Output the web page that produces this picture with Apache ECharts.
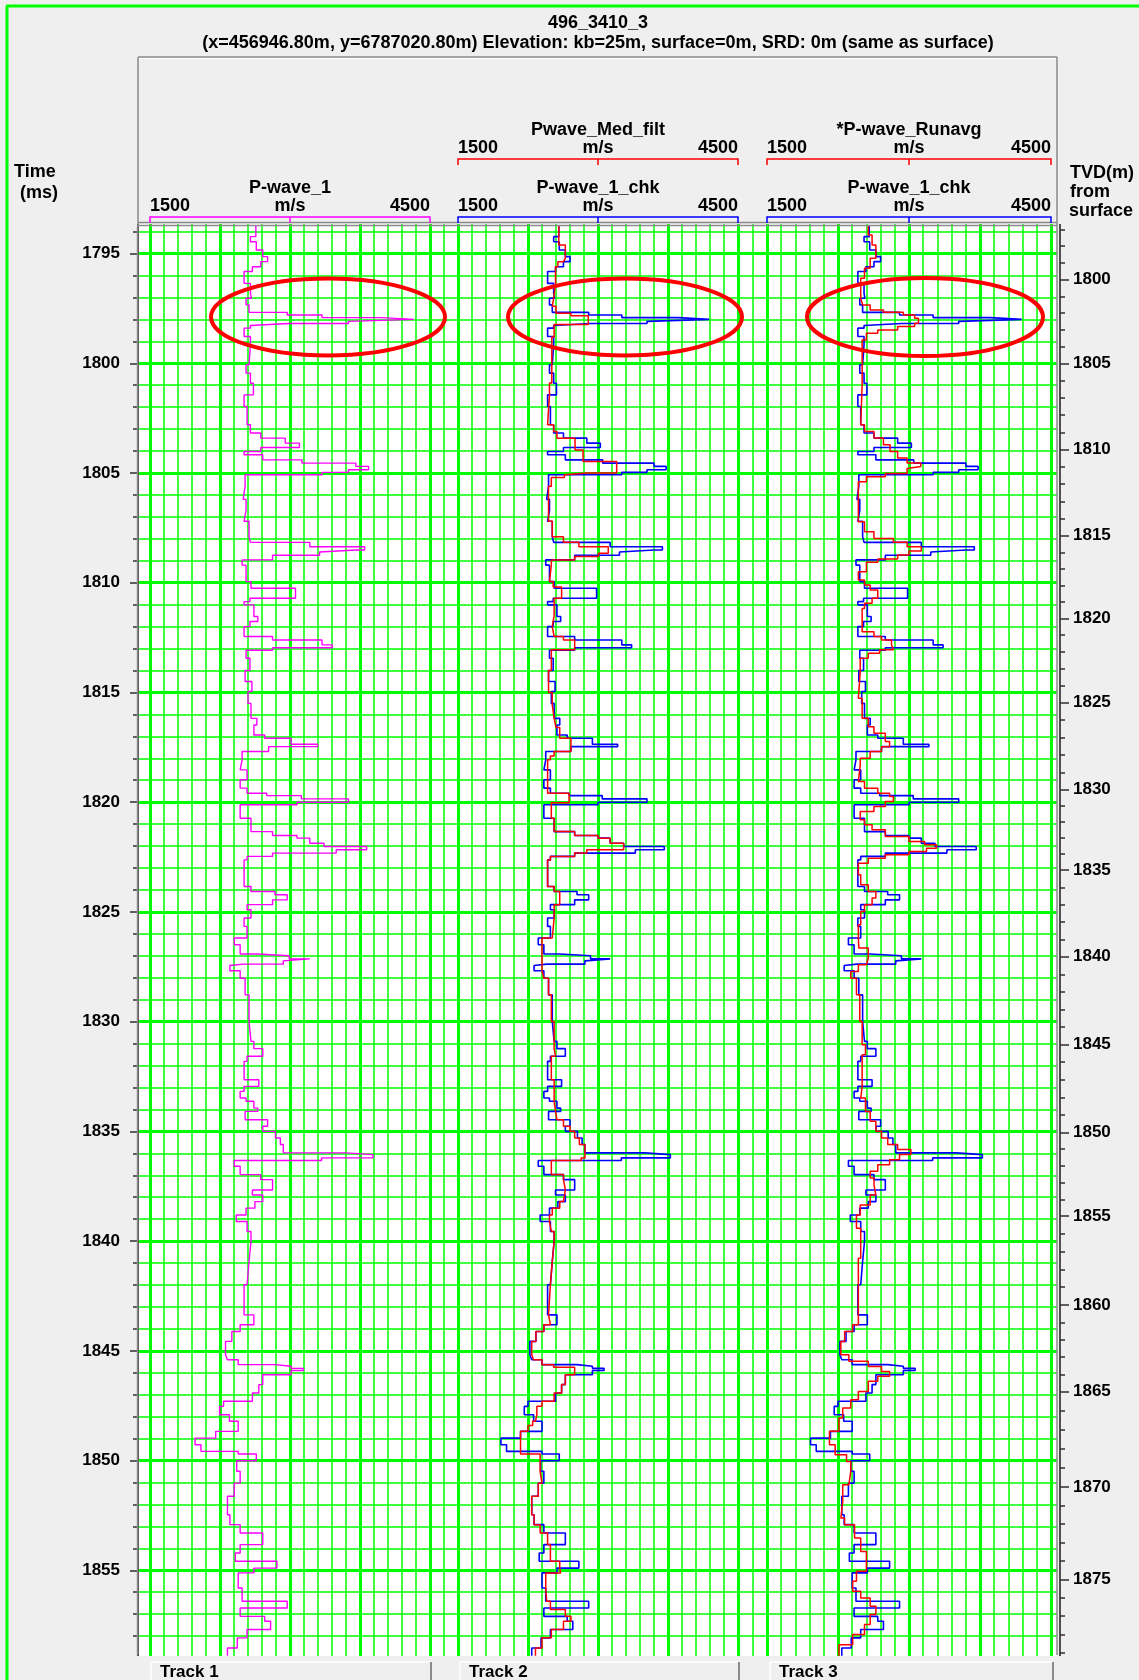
<!DOCTYPE html>
<html><head><meta charset="utf-8">
<script src="https://cdn.jsdelivr.net/npm/echarts@6/dist/echarts.min.js"></script>
<style>html,body{margin:0;padding:0;background:#efefef;}#c{width:1139px;height:1680px;}</style>
</head><body><div id="c"></div>
<script>
// ---------------- DATA ----------------
const timeAxisRange = [1790, 1860];
const velRange = [1500, 4500];
// step boundaries (ms) shared by P-wave_1 and P-wave_1_chk
const chkTime = [1793.70,1794.23,1794.46,1794.84,1795.14,1795.37,1795.60,1795.82,1796.36,1796.81,1797.04,1797.34,1797.68,1797.80,1797.92,1798.00,1798.09,1798.19,1798.28,1798.40,1798.78,1799.16,1800.07,1800.45,1800.91,1801.44,1801.97,1802.80,1803.18,1803.41,1803.64,1803.84,1804.02,1804.17,1804.40,1804.55,1804.70,1804.85,1804.97,1805.08,1805.60,1806.20,1806.70,1807.20,1807.90,1808.16,1808.36,1808.51,1808.60,1808.75,1808.96,1809.20,1809.95,1810.25,1810.71,1810.86,1811.01,1811.54,1811.77,1812.00,1812.45,1812.61,1812.83,1812.96,1813.08,1813.44,1814.00,1814.50,1814.96,1815.50,1816.18,1816.48,1816.94,1817.09,1817.36,1817.47,1817.69,1818.07,1818.53,1818.98,1819.36,1819.59,1819.70,1819.85,1820.00,1820.12,1820.73,1821.34,1821.52,1821.64,1821.87,1822.02,1822.17,1822.32,1822.47,1822.63,1823.84,1824.07,1824.22,1824.45,1824.67,1824.90,1825.28,1825.66,1826.19,1826.50,1826.92,1827.00,1827.14,1827.23,1827.38,1827.44,1827.68,1828.02,1828.78,1829.99,1830.90,1831.23,1831.58,1831.81,1832.65,1832.95,1833.18,1833.48,1833.63,1833.94,1834.09,1834.47,1834.77,1835.00,1835.30,1835.60,1835.98,1836.06,1836.21,1836.33,1836.59,1836.97,1837.20,1837.67,1837.90,1838.20,1838.50,1838.81,1839.11,1839.56,1840.02,1840.93,1841.99,1843.36,1843.81,1844.12,1844.57,1845.18,1845.41,1845.63,1845.70,1845.80,1845.90,1846.09,1846.54,1846.92,1847.30,1847.53,1847.91,1848.21,1848.67,1848.98,1849.28,1849.58,1849.70,1850.01,1850.49,1851.03,1851.63,1852.47,1852.92,1853.30,1853.83,1854.21,1854.59,1854.90,1855.12,1855.81,1856.41,1856.72,1857.10,1857.32,1857.70,1858.08,1858.54,1858.90];
// P-wave_1_chk (m/s)
const chkVel = [2580,2525,2585,2650,2700,2630,2545,2460,2525,2535,2480,2510,2900,3255,3860,4190,3525,2920,2525,2460,2525,2510,2480,2525,2555,2460,2490,2525,2630,2880,3025,2630,2460,2650,3050,3600,3730,3525,3255,2470,2450,2480,2460,2510,2525,3130,3690,3600,3230,2750,2440,2480,2530,2985,2520,2460,2560,2600,2520,2460,2750,3255,3360,2750,2480,2520,2470,2540,2500,2530,2590,2560,2670,2940,3210,2710,2440,2420,2490,2420,2490,2690,3045,3525,3000,2420,2530,2750,3000,3130,3275,3710,3400,2750,2490,2460,2530,2775,2900,2750,2490,2530,2460,2490,2360,2420,2590,2920,3130,2860,2450,2315,2420,2470,2510,2530,2560,2650,2490,2460,2610,2460,2420,2480,2560,2600,2470,2700,2650,2780,2830,2860,3500,3775,3250,2360,2420,2630,2750,2545,2650,2570,2480,2380,2490,2530,2510,2490,2460,2560,2420,2335,2270,2290,2400,2775,2940,3065,2940,2650,2610,2545,2250,2210,2310,2400,2170,1960,2020,2400,2585,2385,2420,2360,2290,2315,2420,2650,2420,2370,2795,2560,2400,2440,2900,2420,2670,2730,2490,2390,2290,2290];
// P-wave_1 (m/s)
const pw1Vel = [2634,2576,2639,2708,2760,2687,2597,2508,2576,2587,2529,2561,2970,3343,3978,4325,3626,2991,2576,2508,2576,2561,2529,2576,2608,2508,2540,2576,2687,2949,3101,2687,2508,2708,3128,3705,3842,3626,3343,2519,2498,2529,2508,2561,2576,3212,3800,3705,3317,2813,2487,2529,2582,3059,2571,2508,2613,2655,2571,2508,2813,3343,3453,2813,2529,2571,2519,2592,2550,2582,2645,2613,2729,3012,3296,2771,2487,2466,2540,2466,2540,2750,3122,3626,3075,2466,2582,2813,3075,3212,3364,3821,3495,2813,2540,2508,2582,2839,2970,2813,2540,2582,2508,2540,2403,2466,2645,2991,3212,2928,2498,2356,2466,2519,2561,2582,2613,2708,2540,2508,2666,2508,2466,2529,2613,2655,2519,2760,2708,2844,2897,2928,3600,3889,3338,2403,2466,2687,2813,2597,2708,2624,2529,2424,2540,2582,2561,2540,2508,2613,2466,2377,2309,2330,2445,2839,3012,3143,3012,2708,2666,2597,2288,2246,2351,2445,2204,1983,2046,2445,2639,2429,2466,2403,2330,2356,2466,2708,2466,2414,2860,2613,2445,2487,2970,2466,2729,2792,2540,2435,2330,2330];
// Pwave_Med_filt
const medTime = [1793.70,1794.61,1795.22,1795.37,1795.60,1796.36,1797.04,1797.40,1797.72,1797.83,1798.23,1798.80,1800.90,1801.44,1802.80,1803.11,1803.42,1803.95,1804.48,1805.00,1805.08,1805.20,1805.60,1807.20,1807.90,1808.16,1808.36,1808.66,1808.81,1808.96,1809.19,1809.95,1810.20,1810.71,1811.50,1812.00,1812.45,1812.61,1813.05,1814.00,1815.00,1815.57,1816.18,1816.60,1817.09,1817.69,1817.90,1818.07,1819.59,1820.03,1820.73,1821.34,1821.52,1821.64,1821.87,1822.17,1822.32,1822.47,1822.63,1823.84,1824.07,1824.67,1825.28,1826.19,1827.68,1828.02,1828.78,1829.99,1831.23,1831.58,1832.65,1833.63,1834.09,1834.47,1834.77,1835.00,1835.30,1835.60,1836.21,1836.33,1836.97,1837.20,1837.67,1838.20,1838.50,1838.81,1839.11,1839.56,1840.02,1840.93,1841.99,1843.36,1843.81,1844.12,1844.57,1845.18,1845.41,1845.63,1845.75,1846.09,1846.54,1846.92,1847.30,1847.53,1847.91,1848.21,1848.40,1848.67,1849.70,1850.49,1851.03,1851.63,1852.47,1852.92,1853.30,1853.83,1854.59,1854.90,1855.12,1855.81,1856.41,1856.79,1857.10,1857.32,1857.70,1858.08,1858.54,1858.90];
const medVel = [2580,2650,2630,2570,2545,2525,2510,2550,2710,2896,2530,2505,2480,2460,2525,2560,2754,2840,3200,2880,2640,2500,2470,2510,2630,2795,3110,3005,2750,2500,2480,2520,2610,2530,2510,2530,2630,2750,2500,2470,2510,2530,2550,2590,2710,2530,2490,2460,2690,2500,2530,2750,3000,3130,3275,2880,2750,2490,2460,2530,2590,2530,2510,2400,2420,2470,2500,2530,2545,2500,2530,2545,2560,2630,2700,2750,2800,2860,2820,2500,2630,2650,2630,2590,2510,2480,2500,2530,2510,2490,2470,2490,2420,2335,2290,2310,2400,2525,2750,2650,2610,2530,2400,2345,2330,2300,2250,2170,2380,2400,2360,2290,2315,2380,2460,2490,2590,2600,2440,2450,2490,2650,2710,2630,2500,2400,2330,2330];
// *P-wave_Runavg
const runTime = [1793.70,1794.16,1794.61,1795.22,1795.67,1796.13,1797.04,1797.34,1797.57,1797.68,1797.80,1797.95,1798.18,1798.33,1798.48,1798.63,1798.94,1801.00,1802.80,1803.11,1803.41,1803.71,1804.02,1804.32,1804.55,1804.70,1804.79,1805.02,1805.17,1805.40,1807.22,1807.68,1807.98,1808.16,1808.36,1808.55,1808.74,1808.92,1809.07,1809.50,1809.88,1810.10,1810.33,1810.71,1810.94,1811.17,1812.23,1812.45,1812.61,1812.83,1813.06,1813.21,1813.44,1814.05,1815.26,1816.18,1816.56,1816.86,1817.24,1817.47,1817.69,1818.00,1818.30,1819.06,1819.36,1819.59,1819.74,1819.97,1820.20,1820.43,1820.80,1821.03,1821.26,1821.56,1821.79,1821.94,1822.10,1822.25,1822.40,1822.55,1822.78,1823.31,1823.76,1824.07,1824.37,1824.67,1824.98,1825.59,1826.19,1826.65,1827.11,1827.41,1827.71,1828.02,1828.78,1829.99,1831.05,1831.51,1832.96,1833.48,1834.09,1834.54,1835.00,1835.30,1835.60,1835.83,1836.06,1836.29,1836.52,1836.82,1837.12,1837.44,1837.90,1838.35,1838.81,1839.41,1840.78,1843.81,1844.12,1844.57,1845.18,1845.48,1845.71,1845.94,1846.16,1846.39,1846.85,1847.23,1847.61,1848.06,1848.67,1849.28,1849.74,1850.04,1850.49,1851.10,1851.86,1852.62,1852.92,1853.53,1854.14,1855.05,1855.50,1855.96,1856.26,1856.64,1857.02,1857.47,1857.93,1858.39,1858.90];
const runVel = [2570,2610,2650,2590,2530,2490,2510,2590,2730,2940,3060,3100,3060,2880,2670,2550,2505,2490,2530,2630,2730,2800,2880,2980,3125,3145,2980,2750,2550,2465,2530,2630,2835,2980,3130,3000,2880,2670,2550,2465,2530,2590,2670,2610,2530,2505,2630,2710,2815,2835,2690,2570,2485,2465,2505,2570,2630,2750,2795,2710,2590,2485,2465,2530,2670,2795,2835,2750,2630,2485,2530,2610,2750,3000,3165,3290,3185,3000,2750,2570,2465,2490,2570,2650,2610,2530,2490,2465,2470,2570,2550,2465,2385,2445,2480,2505,2540,2505,2490,2540,2590,2650,2710,2775,2880,3020,2900,2795,2670,2590,2630,2650,2590,2485,2445,2490,2465,2405,2320,2280,2365,2570,2710,2795,2670,2570,2465,2385,2300,2260,2160,2220,2340,2385,2365,2300,2280,2320,2425,2490,2550,2445,2405,2490,2590,2650,2590,2530,2405,2260,2260];
// TVD (m) axis: labelled depths and the two-way time at which each occurs
const tvdLabels = [1800,1805,1810,1815,1820,1825,1830,1835,1840,1845,1850,1855,1860,1865,1870,1875];
const tvdTimes  = [1796.19,1800.00,1803.93,1807.86,1811.62,1815.47,1819.43,1823.09,1827.04,1831.05,1835.05,1838.86,1842.91,1846.86,1851.20,1855.41];
const trackTitles = ['Track 1','Track 2','Track 3'];

// ---------------- LAYOUT ----------------
const FONT = "'Liberation Sans', Arial, Helvetica, sans-serif";
const PLOT_TOP = 227, PLOT_BOTTOM = 1655, T_TOP = 1793.79, MS_PX = 21.95;
const gridTop = PLOT_TOP - (T_TOP - timeAxisRange[0]) * MS_PX;
const gridH = (timeAxisRange[1] - timeAxisRange[0]) * MS_PX;
const PLOT_L = 138, PLOT_R = 1057;
const trackL = [150, 458, 767], trackW = [280, 280, 284];
const GREEN = '#00ff00';

function stepPairs(ts, vs) {
  const out = [];
  for (let i = 0; i < ts.length; i++) {
    out.push([vs[i], ts[i]]);
    if (i + 1 < ts.length) out.push([vs[i], ts[i + 1]]);
  }
  return out;
}
// minor (1 m) TVD ticks positioned along the labelled depth/time pairs
function tvdToTime(d) {
  let i = 0;
  while (i < tvdLabels.length - 2 && d > tvdLabels[i + 1]) i++;
  const d0 = tvdLabels[i], d1 = tvdLabels[i + 1], t0 = tvdTimes[i], t1 = tvdTimes[i + 1];
  return t0 + (d - d0) * (t1 - t0) / (d1 - d0);
}
const tvdMinor = [];
for (let d = 1797; d <= 1879; d++) { if (d % 5) tvdMinor.push(+tvdToTime(d).toFixed(3)); }

const chart = echarts.init(document.getElementById('c'), null, {width: 1139, height: 1680});

const hidden = {show: false};
const trackX = (g) => ({
  gridIndex: g, type: 'value', min: velRange[0], max: velRange[1], interval: 750,
  axisLine: hidden, axisTick: hidden, axisLabel: hidden,
  splitLine: {show: true, lineStyle: {color: GREEN, width: 3}},
  minorTick: {show: false, splitNumber: 5},
  minorSplitLine: {show: true, lineStyle: {color: GREEN, width: 1.5}}
});
const gapX = (g) => ({
  gridIndex: g, type: 'value', min: 0, max: 2, interval: 1,
  axisLine: hidden, axisTick: hidden, axisLabel: hidden,
  splitLine: {show: true, lineStyle: {color: ['rgba(0,0,0,0)', GREEN, 'rgba(0,0,0,0)'], width: 1.5}}
});
const hiddenY = (g) => ({gridIndex: g, type: 'value', inverse: true, min: timeAxisRange[0], max: timeAxisRange[1], show: false});
const labelStyle = {fontSize: 17, fontWeight: 'bold', color: '#000', fontFamily: FONT};

const grids = [
  {left: PLOT_L, top: gridTop, width: PLOT_R - PLOT_L, height: gridH, show: true, backgroundColor: '#ffffff', borderWidth: 0},
  {left: trackL[0], top: gridTop, width: trackW[0], height: gridH},
  {left: trackL[1], top: gridTop, width: trackW[1], height: gridH},
  {left: trackL[2], top: gridTop, width: trackW[2], height: gridH},
  {left: 430, top: gridTop, width: 28, height: gridH},
  {left: 738, top: gridTop, width: 29, height: gridH}
];

const line = (xi, yi, data, color, width, z) => ({
  type: 'line', xAxisIndex: xi, yAxisIndex: yi, data, symbol: 'none', silent: true,
  lineStyle: {color, width}, z, animation: false, clip: true
});

const option = {
  animation: false,
  backgroundColor: '#efefef',
  grid: grids,
  xAxis: [
    {gridIndex: 0, type: 'value', min: 0, max: 1, show: false},
    trackX(1), trackX(2), trackX(3), gapX(4), gapX(5)
  ],
  yAxis: [
    {gridIndex: 0, type: 'value', inverse: true, min: timeAxisRange[0], max: timeAxisRange[1], interval: 5,
     position: 'left', offset: 3,
     axisLine: {show: true, lineStyle: {color: '#505050', width: 2}},
     axisTick: {show: true, length: 8, lineStyle: {color: '#303030', width: 1.5}},
     minorTick: {show: true, splitNumber: 5, length: 5, lineStyle: {color: '#303030', width: 1.5}},
     axisLabel: Object.assign({margin: 15, showMinLabel: false, showMaxLabel: false, formatter: (v) => String(Math.round(v))}, labelStyle),
     splitLine: {show: true, lineStyle: {color: GREEN, width: 3}},
     minorSplitLine: {show: true, lineStyle: {color: GREEN, width: 1.5}}},
    {gridIndex: 0, type: 'value', inverse: true, min: timeAxisRange[0], max: timeAxisRange[1],
     position: 'right', offset: 3,
     axisLine: {show: true, lineStyle: {color: '#505050', width: 2}},
     axisTick: {show: true, length: 9, customValues: tvdTimes, lineStyle: {color: '#303030', width: 1.5}},
     axisLabel: Object.assign({margin: 13, customValues: tvdTimes,
       formatter: (v) => { const i = tvdTimes.findIndex(t => Math.abs(t - v) < 1e-6); return i >= 0 ? String(tvdLabels[i]) : ''; }}, labelStyle),
     splitLine: hidden},
    {gridIndex: 0, type: 'value', inverse: true, min: timeAxisRange[0], max: timeAxisRange[1],
     position: 'right', offset: 3,
     axisLine: hidden,
     axisTick: {show: true, length: 5, customValues: tvdMinor, lineStyle: {color: '#303030', width: 1.5}},
     axisLabel: hidden, splitLine: hidden},
    hiddenY(1), hiddenY(2), hiddenY(3), hiddenY(4), hiddenY(5)
  ],
  series: [
    line(1, 3, stepPairs(chkTime, pw1Vel), '#ff00ff', 1.4, 3),
    line(2, 4, stepPairs(chkTime, chkVel), '#0000ff', 1.6, 3),
    line(2, 4, stepPairs(medTime, medVel), '#ff0000', 1.5, 4),
    line(3, 5, stepPairs(chkTime, chkVel), '#0000ff', 1.6, 3),
    line(3, 5, stepPairs(runTime, runVel), '#ff0000', 1.5, 4)
  ]
};
chart.setOption(option);

// ---------------- DECORATION ----------------
const G = [];
const txt = (text, x, y, align, size, z) => ({type: 'text', x, y, z: z || 120, silent: true,
  style: {text, font: 'bold ' + (size || 18) + 'px ' + FONT, fill: '#000', align: align || 'center', verticalAlign: 'middle', textAlign: align || 'center', textVerticalAlign: 'middle'}});
const ln = (x1, y1, x2, y2, stroke, w, z) => ({type: 'line', z: z || 115, silent: true, shape: {x1, y1, x2, y2}, style: {stroke, lineWidth: w || 1}});
const bracket = (x1, x2, y, color) => ({type: 'polyline', z: 116, silent: true,
  shape: {points: [[x1, y + 6], [x1, y], [x2, y], [x2, y + 6]]}, style: {stroke: color, lineWidth: 1.5, fill: null}});
const midTick = (x, y, color) => ln(x, y, x, y + 6, color, 1.5, 116);

// masks outside the plot window
G.push({type: 'rect', z: 100, silent: true, shape: {x: 60, y: 120, width: 1079, height: PLOT_TOP - 3 - 120}, style: {fill: '#efefef'}});
G.push({type: 'rect', z: 100, silent: true, shape: {x: 60, y: PLOT_BOTTOM + 1, width: 1079, height: 1680 - PLOT_BOTTOM}, style: {fill: '#efefef'}});
// outer green frame
G.push(ln(7, 6, 7, 1680, GREEN, 3, 130));
G.push(ln(6, 6, 1139, 6, GREEN, 3, 130));
// title
G.push(txt('496_3410_3', 598, 23, 'center', 18));
G.push(txt('(x=456946.80m, y=6787020.80m) Elevation: kb=25m, surface=0m, SRD: 0m (same as surface)', 598, 43, 'center', 18));
// header box
G.push(ln(PLOT_L, 57, PLOT_R, 57, '#8a8a8a', 1.5));
G.push(ln(PLOT_L, 58.5, PLOT_R, 58.5, '#ffffff', 1));
G.push(ln(PLOT_L, 57, PLOT_L, PLOT_TOP, '#8a8a8a', 1.5));
G.push(ln(PLOT_R, 57, PLOT_R, PLOT_TOP, '#8a8a8a', 1.5));
// plot top border (double)
G.push(ln(PLOT_L, 222.5, PLOT_R, 222.5, '#8a8a8a', 1.5));
G.push(ln(PLOT_L, 225.5, PLOT_R, 225.5, '#8a8a8a', 1.5));
G.push(ln(PLOT_L - 0.5, PLOT_TOP, PLOT_L - 0.5, PLOT_BOTTOM, '#8a8a8a', 1.5, 90));
G.push(ln(PLOT_R, PLOT_TOP, PLOT_R, PLOT_BOTTOM, '#8a8a8a', 1.5, 90));
// axis titles
G.push(txt('Time', 14, 172, 'left', 18));
G.push(txt('(ms)', 20, 193, 'left', 18));
G.push(txt('TVD(m)', 1070, 173, 'left', 18));
G.push(txt('from', 1070, 192, 'left', 18));
G.push(txt('surface', 1069, 211, 'left', 18));
// curve headers
const hdr = [
  {row: 1, track: 1, name: 'Pwave_Med_filt', color: '#ff0000'},
  {row: 1, track: 2, name: '*P-wave_Runavg', color: '#ff0000'},
  {row: 2, track: 0, name: 'P-wave_1', color: '#ff00ff'},
  {row: 2, track: 1, name: 'P-wave_1_chk', color: '#0000ff'},
  {row: 2, track: 2, name: 'P-wave_1_chk', color: '#0000ff'}
];
hdr.forEach(h => {
  const x1 = trackL[h.track], x2 = trackL[h.track] + trackW[h.track], xm = (x1 + x2) / 2;
  const yName = h.row === 1 ? 130 : 188, yScale = h.row === 1 ? 148 : 206, yBr = h.row === 1 ? 159 : 217;
  G.push(txt(h.name, xm, yName, 'center', 18));
  G.push(txt(String(velRange[0]), x1, yScale, 'left', 18));
  G.push(txt('m/s', xm, yScale, 'center', 18));
  G.push(txt(String(velRange[1]), x2, yScale, 'right', 18));
  G.push(bracket(x1, x2, yBr, h.color));
  G.push(midTick(xm, yBr, h.color));
});
// footer
const footL = [151, 460, 770], footR = [431, 739, 1053];
trackTitles.forEach((t, i) => {
  G.push(ln(footL[i], 1662, footR[i], 1662, '#ffffff', 1.5, 120));
  G.push(ln(footL[i], 1662, footL[i], 1680, '#ffffff', 1.5, 120));
  G.push(ln(footR[i], 1662, footR[i], 1680, '#6a6a6a', 1.5, 120));
  G.push(txt(t, footL[i] + 9, 1672, 'left', 17));
});
// red annotation ellipses around the 1798 ms spike
[[328, 317, 117, 38.5], [625, 317, 117, 38.5], [925, 317, 118, 39]].forEach(e => {
  G.push({type: 'ellipse', z: 110, silent: true, shape: {cx: e[0], cy: e[1], rx: e[2], ry: e[3]}, style: {stroke: '#ff0000', lineWidth: 4, fill: null}});
});
chart.setOption({graphic: {elements: G}});
</script></body></html>
